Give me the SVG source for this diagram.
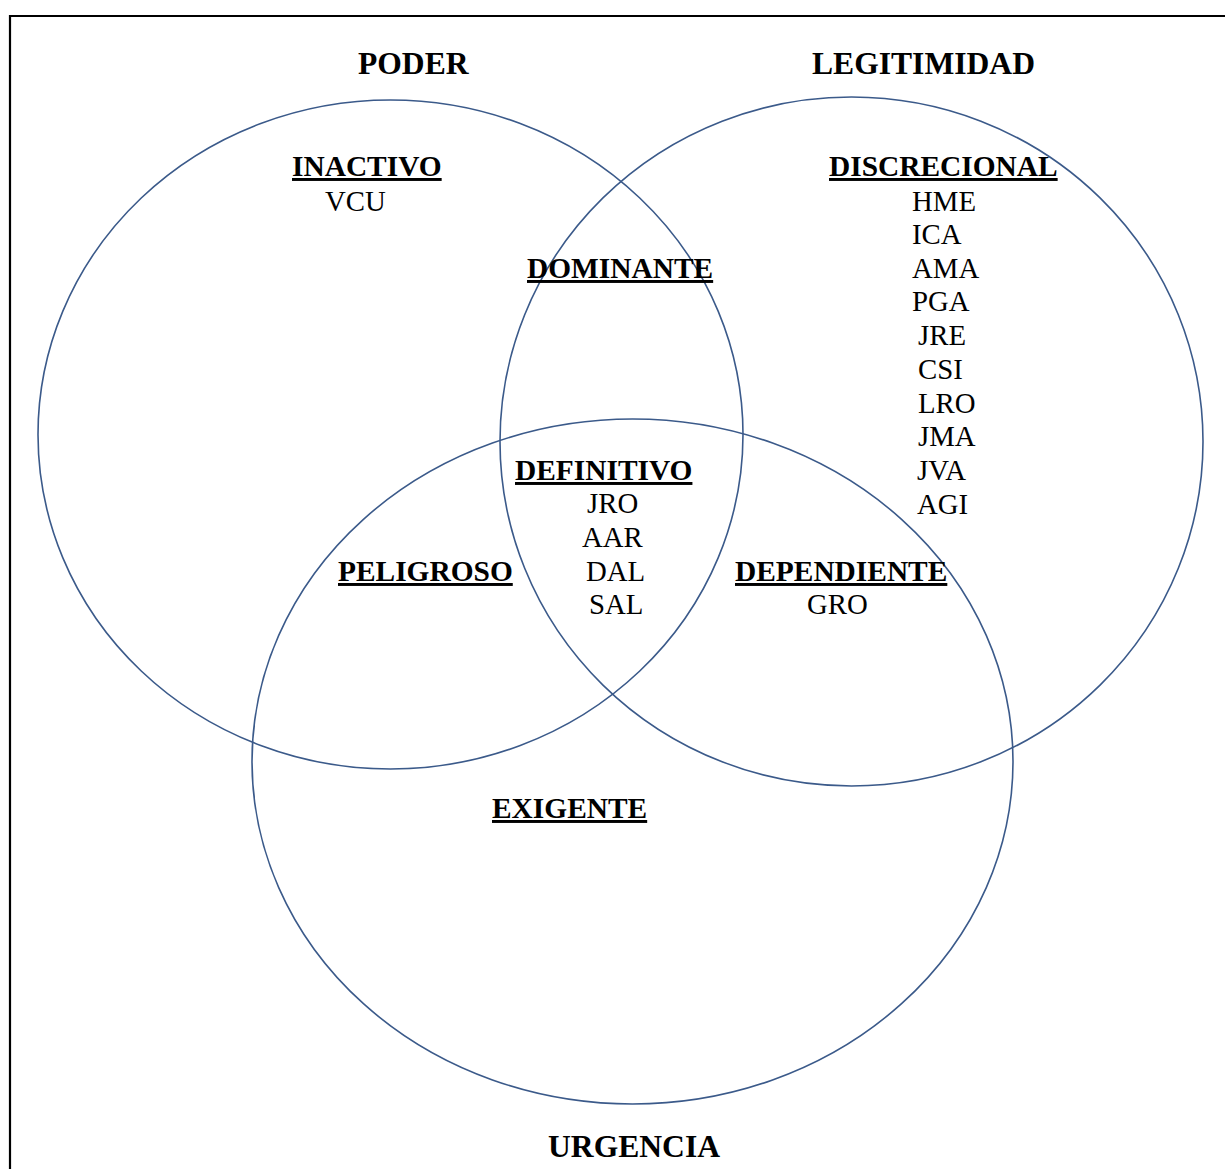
<svg xmlns="http://www.w3.org/2000/svg" width="1225" height="1169" viewBox="0 0 1225 1169">
<style>
text{font-family:"Liberation Serif","Times New Roman",serif;fill:#000}
.t{font-size:31.6px;font-weight:bold}
.l{font-size:29.4px;font-weight:bold;text-decoration:underline}
.n{font-size:28.8px}
.c{fill:none;stroke:#3b5a8a;stroke-width:1.6}
</style>
<rect x="0" y="0" width="1225" height="1169" fill="#fff"/>
<path d="M10 1169 V16 H1225" fill="none" stroke="#000" stroke-width="2.2"/>
<g id="connectors"></g>
<g id="poder"><ellipse class="c" cx="390.5" cy="434.5" rx="352.5" ry="334.5"/><text class="t" x="358" y="74">PODER</text></g>
<g id="legitimidad"><ellipse class="c" cx="851.5" cy="441.5" rx="351.5" ry="344.5"/><text class="t" x="812" y="74">LEGITIMIDAD</text></g>
<g id="urgencia"><ellipse class="c" cx="632.5" cy="761.5" rx="380.5" ry="342.5"/><text class="t" x="548" y="1157">URGENCIA</text></g>
<g id="inactivo"><text class="l" x="292" y="176">INACTIVO</text><text class="n" x="325" y="211">VCU</text></g>
<g id="dominante"><text class="l" x="527" y="278">DOMINANTE</text></g>
<g id="discrecional"><text class="l" x="829" y="176">DISCRECIONAL</text>
<text class="n" x="912" y="211">HME</text>
<text class="n" x="912" y="244">ICA</text>
<text class="n" x="912" y="278">AMA</text>
<text class="n" x="912" y="311">PGA</text>
<text class="n" x="918" y="345">JRE</text>
<text class="n" x="918" y="379">CSI</text>
<text class="n" x="918" y="413">LRO</text>
<text class="n" x="918" y="446">JMA</text>
<text class="n" x="917" y="480">JVA</text>
<text class="n" x="917" y="514">AGI</text></g>
<g id="definitivo"><text class="l" x="515" y="480">DEFINITIVO</text>
<text class="n" x="587" y="513">JRO</text>
<text class="n" x="582" y="547">AAR</text>
<text class="n" x="586" y="581">DAL</text>
<text class="n" x="589" y="614">SAL</text></g>
<g id="peligroso"><text class="l" x="338" y="581">PELIGROSO</text></g>
<g id="dependiente"><text class="l" x="735" y="581">DEPENDIENTE</text><text class="n" x="807" y="614">GRO</text></g>
<g id="exigente"><text class="l" x="492" y="818">EXIGENTE</text></g>
</svg>
